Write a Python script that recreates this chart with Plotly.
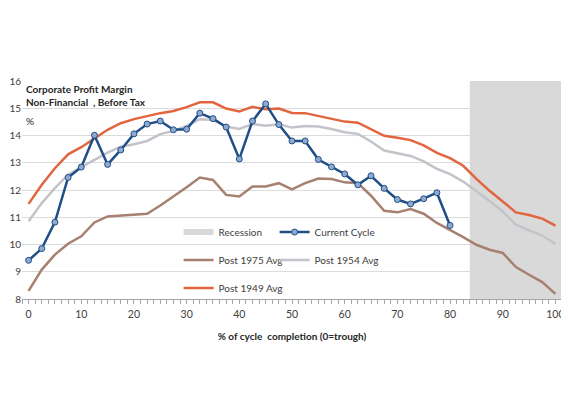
import plotly.graph_objects as go

x_vals = [i * 2.5 for i in range(41)]

current_cycle = [9.42, 9.85, 10.82, 12.46, 12.84, 14.01, 12.94, 13.47, 14.06, 14.42,
                 14.53, 14.21, 14.23, 14.82, 14.62, 14.31, 13.14, 14.53, 15.16, 14.40,
                 13.80, 13.80, 13.12, 12.85, 12.59, 12.19, 12.52, 12.06, 11.65, 11.49,
                 11.68, 11.90, 10.70]

post_1949 = [11.49, 12.19, 12.80, 13.31, 13.57, 13.88, 14.21, 14.45, 14.60, 14.71,
             14.82, 14.90, 15.04, 15.22, 15.22, 14.99, 14.88, 15.05, 14.96, 14.99,
             14.83, 14.82, 14.72, 14.62, 14.51, 14.47, 14.23, 13.99, 13.92, 13.83,
             13.64, 13.36, 13.17, 12.89, 12.41, 11.97, 11.58, 11.18, 11.08, 10.95, 10.69]

post_1954 = [10.85, 11.52, 12.07, 12.56, 12.84, 13.11, 13.37, 13.59, 13.68, 13.80,
             14.05, 14.17, 14.35, 14.60, 14.57, 14.33, 14.24, 14.42, 14.36, 14.41,
             14.29, 14.35, 14.33, 14.24, 14.12, 14.06, 13.78, 13.45, 13.35, 13.25,
             13.05, 12.78, 12.58, 12.31, 11.95, 11.60, 11.21, 10.73, 10.52, 10.33, 10.02]

post_1975 = [8.30, 9.08, 9.63, 10.03, 10.30, 10.81, 11.03, 11.07, 11.09, 11.13,
             11.43, 11.76, 12.10, 12.46, 12.37, 11.82, 11.76, 12.13, 12.13, 12.25,
             12.02, 12.25, 12.42, 12.40, 12.28, 12.25, 11.79, 11.24, 11.18, 11.30,
             11.13, 10.79, 10.54, 10.27, 9.99, 9.81, 9.69, 9.17, 8.89, 8.62, 8.19]

# recession period on the category axis: 85 .. 100 (each category 2.5 wide)
recession_start = 85
recession_end = 100
recession_top = 16

x_ticks = [0, 10, 20, 30, 40, 50, 60, 70, 80, 90, 100]
y_ticks = [8, 9, 10, 11, 12, 13, 14, 15, 16]

FONT = "Lato"
TXT = "#404040"
STEP = 2.5

fig = go.Figure()

# Recession shading: one bar covering the recession categories
rec_width = recession_end - recession_start + STEP
fig.add_trace(go.Bar(
    x=[(recession_start + recession_end) / 2], y=[recession_top - 8], base=8,
    width=rec_width,
    marker=dict(color="#d9d9d9", line=dict(width=0)),
    showlegend=False, hoverinfo="skip"))

fig.add_trace(go.Scatter(
    x=x_vals, y=post_1975, mode="lines", name="Post 1975 Avg",
    line=dict(color="#a88070", width=2.5), legend="legend3"))
fig.add_trace(go.Scatter(
    x=x_vals, y=post_1954, mode="lines", name="Post 1954 Avg",
    line=dict(color="#c3c3ca", width=2.5), legend="legend4"))
fig.add_trace(go.Scatter(
    x=x_vals, y=post_1949, mode="lines", name="Post 1949 Avg",
    line=dict(color="#e2653f", width=2.5), legend="legend5"))

# legend entry for recession
fig.add_trace(go.Scatter(
    x=[None], y=[None], mode="lines", name="Recession",
    line=dict(color="#d9d9d9", width=6), legend="legend"))

fig.add_trace(go.Scatter(
    x=x_vals[:len(current_cycle)], y=current_cycle, mode="lines+markers",
    name="Current Cycle",
    line=dict(color="#1f4f86", width=2.5),
    marker=dict(symbol="circle", size=6, color="#8fa9d0",
                line=dict(color="#1f4f86", width=1)),
    legend="legend2"))

leg_common = dict(orientation="h", xanchor="left", yanchor="middle",
                  bgcolor="rgba(0,0,0,0)", borderwidth=0,
                  font=dict(family=FONT, size=10, color=TXT),
                  itemwidth=30, tracegroupgap=0)

COL1 = 0.29
COL2 = 0.29 + 96 / 540
ROW1, ROW2, ROW3 = 0.307, 0.179, 0.05

# The page body has an 8px margin, so the figure is laid out 8px smaller.
fig.update_layout(
    width=561, height=390,
    margin=dict(l=14, r=7, t=73, b=99),
    paper_bgcolor="white", plot_bgcolor="white",
    font=dict(family=FONT, size=10, color=TXT),
    barmode="overlay",
    legend=dict(x=COL1, y=ROW1, **leg_common),
    legend2=dict(x=COL2, y=ROW1, **leg_common),
    legend3=dict(x=COL1, y=ROW2, **leg_common),
    legend4=dict(x=COL2, y=ROW2, **leg_common),
    legend5=dict(x=COL1, y=ROW3, **leg_common),
    xaxis=dict(range=[-STEP / 2, 100 + STEP / 2], tickvals=x_ticks,
               ticks="outside", ticklen=4, tickcolor="#a6a6a6",
               ticklabelstandoff=1,
               showgrid=False, zeroline=False, automargin=False,
               ticklabeloverflow="allow",
               showline=True, linecolor="#a6a6a6", linewidth=1,
               tickfont=dict(family=FONT, size=10.5, color=TXT),
               minor=dict(ticks="outside", tick0=-STEP / 2, dtick=STEP / 2,
                          ticklen=4, tickcolor="#a6a6a6", showgrid=False),
               title=dict(text="<b>% of cycle  completion (0=trough)</b>",
                          font=dict(family=FONT, size=10, color="#262626"),
                          standoff=14)),
    yaxis=dict(range=[8, 16], tickvals=y_ticks, showgrid=True,
               gridcolor="#dcdcdc", gridwidth=1, zeroline=False,
               showline=False, ticks="", automargin=False,
               ticklabeloverflow="allow",
               tickfont=dict(family=FONT, size=10, color=TXT)),
    annotations=[
        dict(xref="paper", yref="paper", x=0.004, y=(299 - 89) / 218,
             xanchor="left", yanchor="middle", showarrow=False,
             text="<b>Corporate Profit Margin</b>",
             font=dict(family=FONT, size=10, color="#262626")),
        dict(xref="paper", yref="paper", x=0.004, y=(299 - 102) / 218,
             xanchor="left", yanchor="middle", showarrow=False,
             text="<b>Non-Financial  , Before Tax</b>",
             font=dict(family=FONT, size=10, color="#262626")),
        dict(xref="paper", yref="paper", x=0.004, y=(299 - 121) / 218,
             xanchor="left", yanchor="middle", showarrow=False,
             text="%",
             font=dict(family=FONT, size=10, color="#262626")),
    ],
)

fig.write_html("out.html")
